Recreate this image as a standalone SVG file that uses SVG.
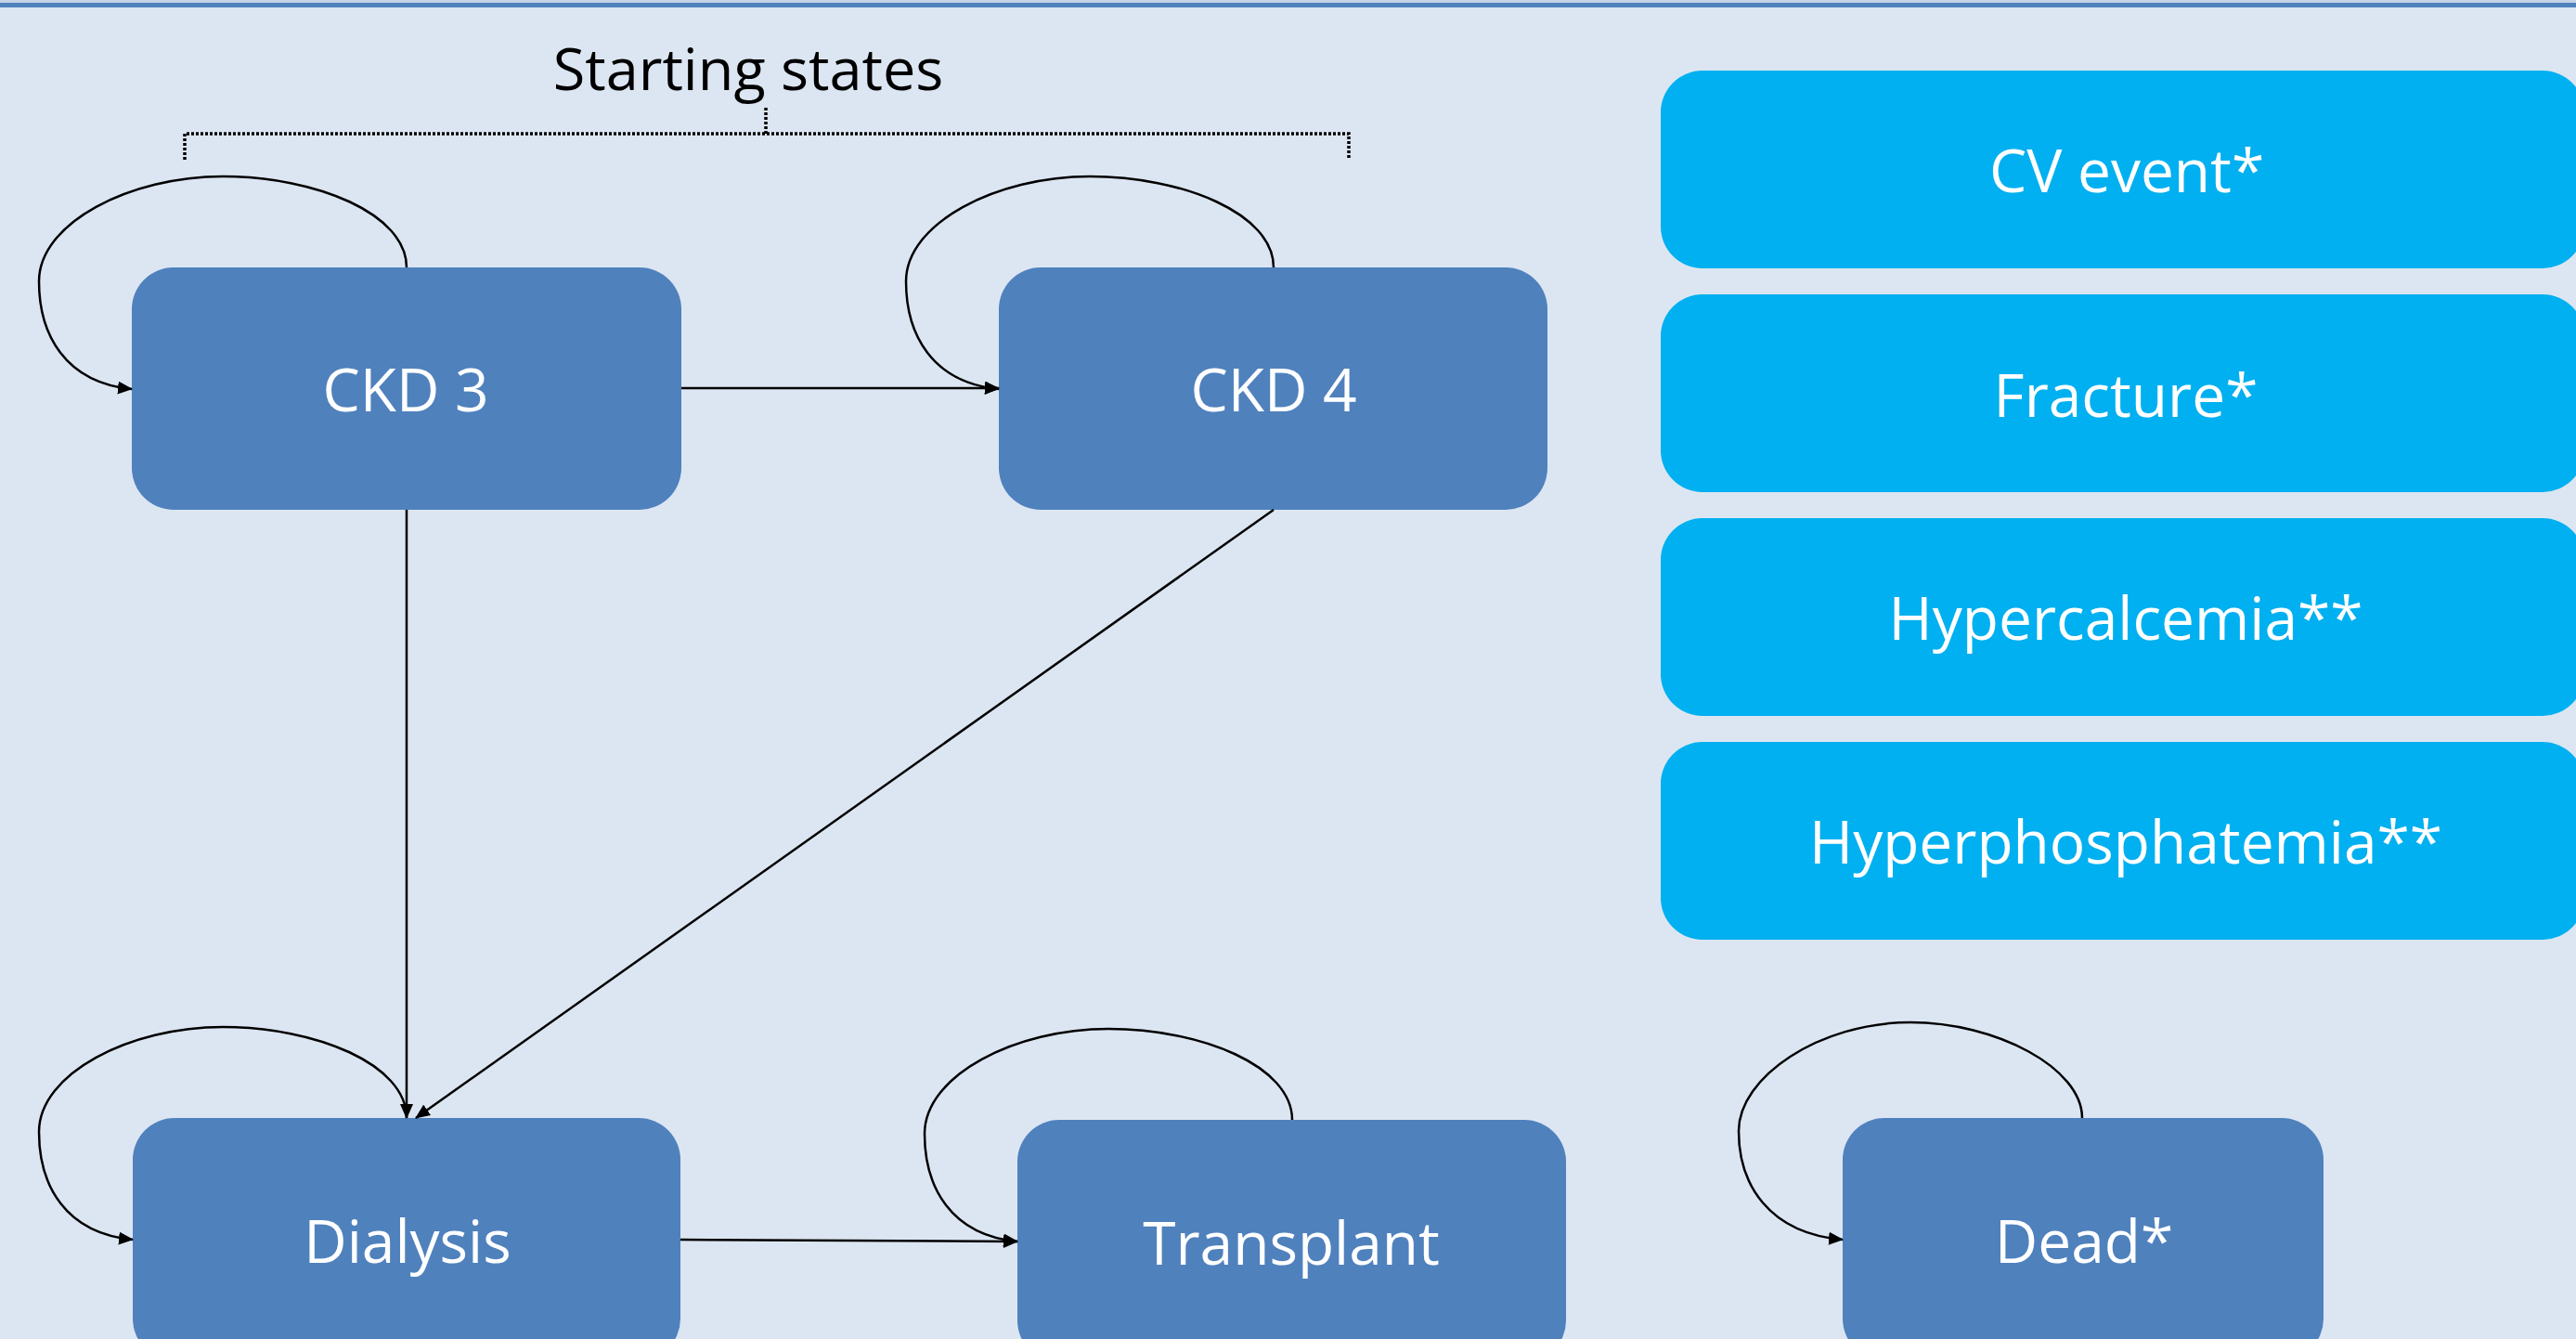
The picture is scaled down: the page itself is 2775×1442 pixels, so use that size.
<svg xmlns="http://www.w3.org/2000/svg" width="2775" height="1442" viewBox="0 0 2775 1442">
<style>
.state{fill:#4f81bd}
.event{fill:#00b0f0}
.lbl{font-family:"Open Sans","Liberation Sans",sans-serif;font-size:64px;fill:#ffffff;text-anchor:middle}
.title{font-family:"Open Sans","Liberation Sans",sans-serif;font-size:63px;fill:#000000;text-anchor:middle}
.conn{fill:none;stroke:#000000;stroke-width:2.5}
.brace{fill:none;stroke:#000000;stroke-width:3.5;stroke-dasharray:3 2}
</style>
<defs>
<marker id="arrow" markerUnits="userSpaceOnUse" viewBox="0 0 16 14" markerWidth="16" markerHeight="14" refX="15" refY="7" orient="auto">
<path d="M0,0 L16,7 L0,14 z" fill="#000000"/>
</marker>
</defs>
<rect x="0" y="0" width="2775" height="1442" fill="#dce6f2"/>
<rect x="0" y="0" width="2775" height="3" fill="#c5d3e6"/>
<rect x="0" y="3" width="2775" height="5" fill="#4f81bd"/>

<g id="starting-states">
<text class="title" x="806" y="97">Starting states</text>
<path class="brace" d="M199,172 L199,144 L1453,144 L1453,172"/>
<path class="brace" d="M825,144 L825,115"/>
</g>

<g id="ckd3">
<rect class="state" x="142" y="288" width="592" height="261" rx="45" ry="45"/>
<text class="lbl" x="437" y="443">CKD 3</text>
</g>
<g id="ckd4">
<rect class="state" x="1076" y="288" width="591" height="261" rx="45" ry="45"/>
<text class="lbl" x="1372" y="443">CKD 4</text>
</g>
<g id="dialysis">
<rect class="state" x="143" y="1204" width="590" height="261" rx="45" ry="45"/>
<text class="lbl" x="439" y="1360">Dialysis</text>
</g>
<g id="transplant">
<rect class="state" x="1096" y="1206" width="591" height="261" rx="45" ry="45"/>
<text class="lbl" x="1391" y="1362">Transplant</text>
</g>
<g id="dead">
<rect class="state" x="1985" y="1204" width="518" height="261" rx="45" ry="45"/>
<text class="lbl" x="2245" y="1360">Dead*</text>
</g>

<g id="cv-event">
<rect class="event" x="1789" y="76" width="995" height="213" rx="45" ry="45"/>
<text class="lbl" x="2291" y="207">CV event*</text>
</g>
<g id="fracture">
<rect class="event" x="1789" y="317" width="995" height="213" rx="45" ry="45"/>
<text class="lbl" x="2290" y="449">Fracture*</text>
</g>
<g id="hypercalcemia">
<rect class="event" x="1789" y="558" width="995" height="213" rx="45" ry="45"/>
<text class="lbl" x="2290" y="689">Hypercalcemia**</text>
</g>
<g id="hyperphosphatemia">
<rect class="event" x="1789" y="799" width="995" height="213" rx="45" ry="45"/>
<text class="lbl" x="2290" y="930">Hyperphosphatemia**</text>
</g>

<g id="connectors">
<path class="conn" marker-end="url(#arrow)" d="M438,288 C438,230 340,190 240,190 C140,190 42,240 42,303 C42,360 70,412 142,419"/>
<path class="conn" marker-end="url(#arrow)" d="M1372,288 C1372,230 1274,190 1174,190 C1074,190 976,240 976,303 C976,360 1004,412 1076,419"/>
<path class="conn" marker-end="url(#arrow)" d="M438,1204 C438,1146 340,1106 240,1106 C140,1106 42,1156 42,1219 C42,1276 70,1328 143,1335"/>
<path class="conn" marker-end="url(#arrow)" d="M1392,1206 C1392,1148 1294,1108 1194,1108 C1094,1108 996,1158 996,1221 C996,1278 1024,1330 1096,1337"/>
<path class="conn" marker-end="url(#arrow)" d="M2243,1204 C2243,1150 2150,1101 2058,1101 C1960,1101 1873,1160 1873,1218 C1873,1275 1905,1328 1985,1335"/>
<path class="conn" marker-end="url(#arrow)" d="M734,418 L1076,418"/>
<path class="conn" marker-end="url(#arrow)" d="M438,549 L438,1204"/>
<path class="conn" marker-end="url(#arrow)" d="M1372,549 L448,1204"/>
<path class="conn" marker-end="url(#arrow)" d="M733,1335 L1096,1337"/>
</g>
</svg>
